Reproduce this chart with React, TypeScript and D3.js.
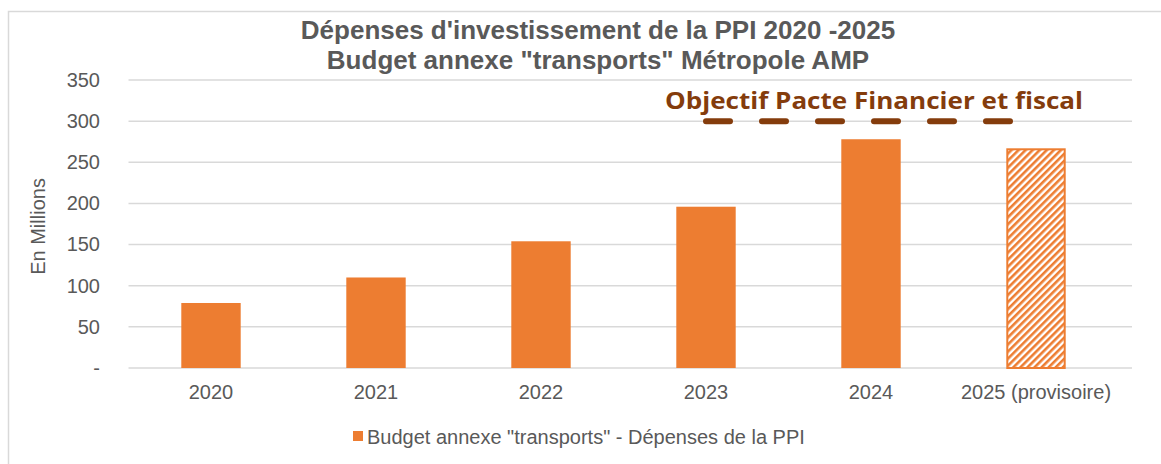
import { useRef, useEffect } from "react";
import { select, scaleBand, scaleLinear, axisLeft, axisBottom } from "d3";

const years = ["2020", "2021", "2022", "2023", "2024", "2025 (provisoire)"];
const depenses = [79, 110, 154, 196, 278, 267];
const provisional = [false, false, false, false, false, true];
const yTicks = [0, 50, 100, 150, 200, 250, 300, 350];
const objectif = 300;
const titleLines = [
  "Dépenses d'investissement de la PPI 2020 -2025",
  'Budget annexe "transports" Métropole AMP',
];
const legendLabel = 'Budget annexe "transports" - Dépenses de la PPI';
const objectifLabel = "Objectif Pacte Financier et fiscal";

const W = 1161;
const H = 464;
const orange = "#ED7D31";
const grey = "#595959";
const brown = "#843C0C";
const font = "'Liberation Sans', Arial, sans-serif";

export default function App() {
  const ref = useRef<SVGSVGElement | null>(null);

  useEffect(() => {
    const svg = select(ref.current!);
    svg.selectAll("*").remove();

    const x = scaleBand().domain(years).range([128.5, 1118.5]).paddingInner(0.64).paddingOuter(0.32);
    const y = scaleLinear().domain([0, 350]).range([368, 80]);

    // hatch for provisional bar
    const defs = svg.append("defs");
    const pat = defs
      .append("pattern")
      .attr("id", "hatch")
      .attr("patternUnits", "userSpaceOnUse")
      .attr("width", 5)
      .attr("height", 5)
      .attr("patternTransform", "rotate(45)");
    pat.append("rect").attr("width", 5).attr("height", 5).attr("fill", "#fff");
    pat.append("rect").attr("width", 2.6).attr("height", 5).attr("fill", orange);

    // frame
    svg
      .append("rect")
      .attr("x", 8.5)
      .attr("y", 11.5)
      .attr("width", W)
      .attr("height", H)
      .attr("fill", "#fff")
      .attr("stroke", "#D9D9D9")
      .attr("stroke-width", 1.5);

    // title
    svg
      .append("g")
      .selectAll("text")
      .data(titleLines)
      .join("text")
      .attr("x", 598)
      .attr("y", (d, i) => 39 + i * 30)
      .attr("text-anchor", "middle")
      .attr("font-family", font)
      .attr("font-weight", "bold")
      .attr("font-size", 26)
      .attr("fill", grey)
      .text((d) => d);

    // gridlines
    svg
      .append("g")
      .selectAll("line")
      .data(yTicks)
      .join("line")
      .attr("x1", 128.5)
      .attr("x2", 1132)
      .attr("y1", (d) => y(d))
      .attr("y2", (d) => y(d))
      .attr("stroke", "#D9D9D9")
      .attr("stroke-width", 1.5);

    // y axis
    const yAxis: any = axisLeft(y)
      .tickValues(yTicks)
      .tickSize(0)
      .tickPadding(28)
      .tickFormat((d: any) => (d === 0 ? "-" : String(d)));
    const ya = svg.append("g").attr("transform", "translate(128,0)").call(yAxis);
    ya.select(".domain").remove();
    ya.selectAll("text").attr("font-family", font).attr("font-size", 20).attr("fill", grey);

    svg
      .append("text")
      .attr("transform", `translate(45,${y(172)}) rotate(-90)`)
      .attr("text-anchor", "middle")
      .attr("font-family", font)
      .attr("font-size", 20)
      .attr("fill", grey)
      .text("En Millions");

    // x axis
    const xAxis: any = axisBottom(x).tickSize(0).tickPadding(17);
    const xa = svg.append("g").attr("transform", `translate(0,${y(0)})`).call(xAxis);
    xa.select(".domain").remove();
    xa.selectAll("text").attr("font-family", font).attr("font-size", 20).attr("fill", grey);

    // bars
    const rows = years.map((k, i) => ({ k, v: depenses[i], p: provisional[i] }));
    svg
      .append("g")
      .selectAll("rect")
      .data(rows)
      .join("rect")
      .attr("x", (d) => x(d.k)! + (d.p ? 1 : 0))
      .attr("y", (d) => y(d.v) + (d.p ? 1 : 0))
      .attr("width", (d) => x.bandwidth() - (d.p ? 2 : 0))
      .attr("height", (d) => y(0) - y(d.v) - (d.p ? 1 : 0))
      .attr("fill", (d) => (d.p ? "url(#hatch)" : orange))
      .attr("stroke", (d) => (d.p ? orange : "none"))
      .attr("stroke-width", 2);

    // objectif dashed line
    const x0 = x("2023")! + x.bandwidth() / 2;
    svg
      .append("line")
      .attr("x1", x0)
      .attr("x2", x0 + 5 * 56 + 24)
      .attr("y1", y(objectif))
      .attr("y2", y(objectif))
      .attr("stroke", brown)
      .attr("stroke-width", 6)
      .attr("stroke-linecap", "round")
      .attr("stroke-dasharray", "24 32");

    svg
      .append("text")
      .attr("x", 665)
      .attr("y", 109)
      .attr("font-family", "'Open Sans', sans-serif")
      .attr("font-weight", "bold")
      .attr("font-size", 23)
      .attr("textLength", 418)
      .attr("lengthAdjust", "spacingAndGlyphs")
      .attr("fill", brown)
      .text(objectifLabel);

    // legend
    const lg = svg.append("g").attr("transform", "translate(353,431)");
    lg.append("rect").attr("width", 10).attr("height", 10).attr("fill", orange);
    lg.append("text")
      .attr("x", 14)
      .attr("y", 13)
      .attr("font-family", font)
      .attr("font-size", 20)
      .attr("fill", grey)
      .text(legendLabel);
  }, []);

  return (
    <svg
      ref={ref}
      width={W}
      height={H}
      style={{ position: "absolute", left: 0, top: 0, background: "#fff" }}
    ></svg>
  );
}
